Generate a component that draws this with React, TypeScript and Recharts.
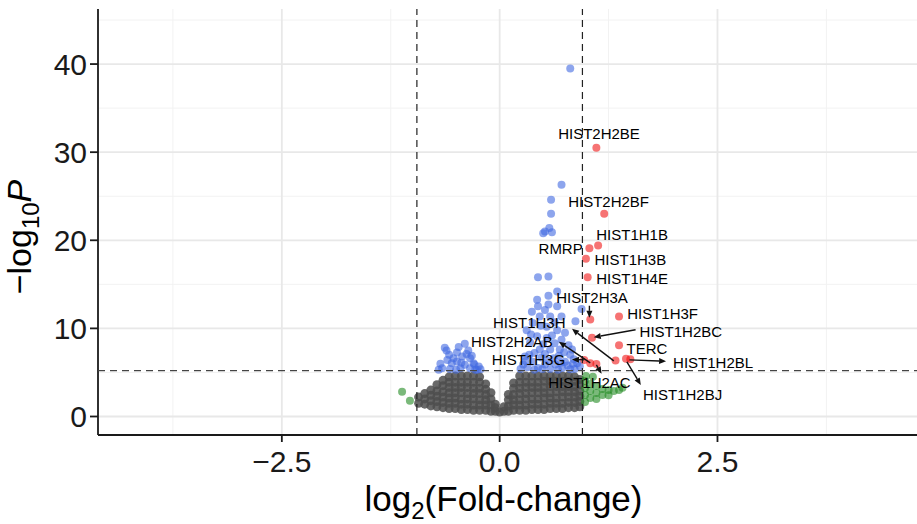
import { ScatterChart, Scatter, XAxis, YAxis, CartesianGrid, ReferenceLine } from "recharts";

const FC_CUTOFF = 0.95;
const P_CUTOFF = 5.2;

const X_TICKS = [-2.5, 0, 2.5];
const Y_TICKS = [0, 10, 20, 30, 40];
const X_MINOR = [-3.75, -1.25, 1.25, 3.75];
const Y_MINOR = [5, 15, 25, 35, 45];

// not significant (grey cloud), read column by column: log2FC and the -log10P values seen in it
const NS_COLUMNS = [
  { x: -0.93, ys: [1.5, 2.2] },
  { x: -0.86, ys: [1.4, 2.0, 2.6] },
  { x: -0.79, ys: [1.2, 1.8, 2.4, 3.0] },
  { x: -0.72, ys: [1.1, 1.7, 2.3, 2.9, 3.6] },
  { x: -0.65, ys: [1.0, 1.6, 2.2, 2.8, 3.5, 4.1] },
  { x: -0.58, ys: [0.9, 1.5, 2.1, 2.7, 3.3, 3.9, 4.5] },
  { x: -0.51, ys: [0.9, 1.5, 2.1, 2.7, 3.3, 3.9, 4.6] },
  { x: -0.44, ys: [0.8, 1.4, 2.0, 2.7, 3.3, 3.9, 4.6] },
  { x: -0.37, ys: [0.8, 1.4, 2.0, 2.6, 3.3, 3.9, 4.6] },
  { x: -0.3, ys: [0.7, 1.3, 2.0, 2.6, 3.2, 3.9, 4.6] },
  { x: -0.23, ys: [0.7, 1.3, 1.9, 2.6, 3.2, 3.9, 4.5] },
  { x: -0.16, ys: [0.7, 1.3, 1.9, 2.5, 3.1, 3.7] },
  { x: -0.1, ys: [0.6, 1.3, 2.0, 2.7] },
  { x: -0.05, ys: [0.6, 1.0, 1.4] },
  { x: 0.0, ys: [0.5] },
  { x: 0.05, ys: [0.6, 1.1] },
  { x: 0.1, ys: [0.6, 1.2, 1.9, 2.5] },
  { x: 0.16, ys: [0.7, 1.3, 1.9, 2.5, 3.2, 3.8] },
  { x: 0.23, ys: [0.7, 1.3, 1.9, 2.6, 3.2, 3.9, 4.6] },
  { x: 0.3, ys: [0.7, 1.3, 2.0, 2.6, 3.3, 3.9, 4.6] },
  { x: 0.37, ys: [0.8, 1.4, 2.0, 2.7, 3.3, 3.9, 4.6] },
  { x: 0.44, ys: [0.8, 1.4, 2.0, 2.7, 3.3, 3.9, 4.6] },
  { x: 0.51, ys: [0.8, 1.4, 2.1, 2.7, 3.3, 4.0, 4.6] },
  { x: 0.58, ys: [0.9, 1.5, 2.1, 2.7, 3.4, 4.0, 4.6] },
  { x: 0.65, ys: [0.9, 1.5, 2.1, 2.8, 3.4, 4.0, 4.6] },
  { x: 0.72, ys: [0.9, 1.5, 2.2, 2.8, 3.4, 4.0, 4.6] },
  { x: 0.79, ys: [1.0, 1.6, 2.2, 2.8, 3.4, 4.0, 4.6] },
  { x: 0.86, ys: [1.0, 1.6, 2.2, 2.8, 3.4, 4.0, 4.5] },
  { x: 0.92, ys: [1.1, 1.7, 2.3, 2.9, 3.6, 4.2] },
];

// log2FC only (green)
const FC_ONLY = [
  [-1.12, 2.8], [-1.03, 1.8],
  [0.99, 4.6], [1.07, 4.5], [0.98, 4.04], [0.98, 3.24], [0.98, 2.45], [0.98, 1.65],
  [1.04, 3.7], [1.04, 2.9], [1.04, 2.1], [1.11, 3.47], [1.11, 2.67], [1.11, 1.99],
  [1.18, 3.13], [1.18, 2.45], [1.25, 3.01], [1.25, 2.4], [1.31, 2.9], [1.37, 3.0],
  [1.41, 3.27],
];

// p-value only (blue)
const P_ONLY = [
  [0.81, 39.5], [0.71, 26.3], [0.59, 24.6], [0.59, 23.0], [0.57, 21.4], [0.52, 21.0],
  [0.6, 20.9], [0.5, 20.8], [0.44, 15.8], [0.56, 15.9], [0.66, 14.2], [0.56, 13.7],
  [0.43, 13.25], [0.56, 12.7], [0.44, 12.5], [0.66, 12.5], [0.52, 12.1], [0.94, 12.2],
  [0.37, 11.9], [0.46, 11.35], [0.58, 11.35], [0.71, 11.35], [0.87, 10.8], [0.38, 10.6],
  [0.54, 10.2], [0.66, 9.8], [0.75, 9.5], [0.31, 9.8], [0.43, 9.1], [0.54, 8.9],
  [0.71, 8.7], [0.79, 8.1], [0.35, 8.4], [0.46, 7.6], [0.58, 7.6], [0.69, 7.6],
  [0.81, 7.0], [0.89, 6.05], [0.29, 6.8], [0.38, 6.2], [0.52, 5.9], [0.64, 5.9],
  [0.75, 6.2], [0.32, 5.6], [0.44, 5.5], [0.58, 5.4], [0.72, 5.5], [0.86, 5.4],
  [0.24, 5.4], [0.92, 5.7], [0.62, 6.6], [0.48, 6.7], [0.85, 6.5], [0.68, 6.9],
  [0.4, 7.2], [0.27, 5.9], [0.5, 8.2], [0.63, 8.3], [0.4, 5.3], [0.67, 5.3], [0.78, 5.8],
  [0.34, 7.0], [0.52, 7.1], [0.74, 7.3], [0.36, 9.3], [0.6, 9.2], [0.83, 7.6],
  [0.47, 10.3], [0.63, 10.7], [0.3, 6.3], [0.56, 6.3], [0.7, 6.1], [0.84, 6.0],
  [0.49, 5.4], [0.81, 5.35],
  [-0.61, 7.5], [-0.49, 7.26], [-0.4, 8.25], [-0.36, 7.5], [-0.43, 6.8], [-0.34, 6.6],
  [-0.3, 6.05], [-0.24, 5.67], [-0.4, 5.86], [-0.49, 6.23], [-0.55, 6.05], [-0.66, 5.48],
  [-0.45, 5.48], [-0.34, 5.48], [-0.26, 5.3], [-0.7, 5.3], [-0.57, 5.4], [-0.38, 7.1],
  [-0.29, 5.9], [-0.63, 7.8], [-0.53, 6.6], [-0.22, 5.35], [-0.6, 6.4],
  [-0.47, 7.9], [-0.58, 7.0], [-0.32, 6.9], [-0.44, 6.1], [-0.68, 6.0], [-0.5, 5.3],
  [-0.28, 5.3],
];

// p-value and log2FC (red)
const BOTH = [
  [1.11, 30.5], [1.2, 23.0], [1.13, 19.4], [1.03, 19.1], [0.99, 17.9], [1.01, 15.8],
  [1.04, 11.0], [1.37, 11.35], [1.06, 8.95], [1.37, 8.1], [1.33, 6.35], [1.45, 6.55],
  [1.5, 6.5], [0.97, 6.4], [1.04, 6.05], [1.11, 5.95],
];

const LABELS = [
  { gene: "HIST2H2BE", x: 1.14, y: 32.1 },
  { gene: "HIST2H2BF", x: 1.25, y: 24.4 },
  { gene: "HIST1H1B", x: 1.52, y: 20.6 },
  { gene: "RMRP", x: 0.7, y: 19.1 },
  { gene: "HIST1H3B", x: 1.5, y: 17.8 },
  { gene: "HIST1H4E", x: 1.52, y: 15.7 },
  { gene: "HIST2H3A", x: 1.06, y: 13.5 },
  { gene: "HIST1H3F", x: 1.87, y: 11.7 },
  { gene: "HIST1H2BC", x: 2.08, y: 9.7 },
  { gene: "TERC", x: 1.69, y: 7.7 },
  { gene: "HIST1H2BL", x: 2.45, y: 6.15 },
  { gene: "HIST1H2BJ", x: 2.1, y: 2.45 },
  { gene: "HIST1H3H", x: 0.34, y: 10.65 },
  { gene: "HIST2H2AB", x: 0.14, y: 8.5 },
  { gene: "HIST1H3G", x: 0.33, y: 6.5 },
  { gene: "HIST1H2AC", x: 1.03, y: 3.87 },
];

const ARROWS = [
  { gene: "HIST2H3A", from: [1.03, 12.57], to: [1.03, 11.2] },
  { gene: "HIST1H2BC", from: [1.56, 9.84], to: [1.08, 8.99] },
  { gene: "HIST1H2BL", from: [1.49, 6.43], to: [1.91, 6.26] },
  { gene: "HIST1H2BJ", from: [1.46, 6.2], to: [1.62, 3.58] },
  { gene: "HIST1H3H", from: [1.31, 6.31], to: [0.83, 9.95] },
  { gene: "HIST2H2AB", from: [1.04, 6.09], to: [0.68, 8.48] },
  { gene: "HIST1H3G", from: [0.97, 6.43], to: [0.83, 6.48] },
  { gene: "HIST1H2AC", from: [1.11, 5.86], to: [1.17, 4.84] },
];

const nsData = NS_COLUMNS.flatMap((c) => c.ys.map((y) => ({ x: c.x, y })));
const toPts = (arr: number[][]) => arr.map(([x, y]) => ({ x, y }));

const FONT = "'Liberation Sans', Arial, Helvetica, sans-serif";
const INK = "#1a1a1a";

const dot = (fill: string, opacity: number, r: number) => (p: any) =>
  <circle cx={p.cx} cy={p.cy} r={r} fill={fill} fillOpacity={opacity} />;

const geneLabel = (p: any) => (
  <text x={p.cx} y={p.cy} textAnchor="middle" dominantBaseline="central" fontSize={15} fill="#000">
    {p.payload.gene}
  </text>
);

const arrowShape = (p: any) => {
  const { x1, y1, x2, y2 } = p;
  const a = Math.atan2(y2 - y1, x2 - x1);
  const len = 7;
  const w = 3;
  const bx = x2 - len * Math.cos(a);
  const by = y2 - len * Math.sin(a);
  const pts = `${x2},${y2} ${bx + w * Math.sin(a)},${by - w * Math.cos(a)} ${bx - w * Math.sin(a)},${by + w * Math.cos(a)}`;
  return (
    <g>
      <line x1={x1} y1={y1} x2={bx} y2={by} stroke="#111" strokeWidth={1.4} />
      <polygon points={pts} fill="#111" />
    </g>
  );
};

const fmt = (v: number) => (v < 0 ? "\u2212" : "") + Math.abs(v).toFixed(1);

const xTitle = (p: any) => {
  const vb = p.viewBox;
  return (
    <text x={vb.x + vb.width / 2 - 4} y={vb.y + 76} textAnchor="middle" fontSize={35} fill="#000">
      log<tspan dy={8} fontSize={24}>2</tspan>
      <tspan dy={-8}>(Fold-change)</tspan>
    </text>
  );
};

const yTitle = () => (
  <text x={31} y={237} transform="rotate(-90 31 237)" textAnchor="middle" fontSize={34} fill="#000">
    {"\u2212log"}
    <tspan dy={8} fontSize={24}>10</tspan>
    <tspan dy={-8} fontStyle="italic">P</tspan>
  </text>
);

export default function App() {
  return (
    <div style={{ position: "absolute", left: 0, top: 0, fontFamily: FONT, background: "#fff" }}>
      <ScatterChart width={917} height={524} margin={{ top: 9, right: 0, bottom: 0, left: 0 }}>
        <CartesianGrid verticalValues={X_MINOR} horizontalValues={Y_MINOR} stroke="#f2f2f2" strokeWidth={1} />
        <CartesianGrid verticalValues={X_TICKS} horizontalValues={Y_TICKS} stroke="#e8e8e8" strokeWidth={1.8} />
        <XAxis
          type="number"
          dataKey="x"
          domain={[-4.61, 4.79]}
          ticks={X_TICKS}
          tickFormatter={fmt}
          allowDataOverflow
          height={89}
          tickSize={7}
          tickMargin={9}
          axisLine={{ stroke: INK, strokeWidth: 1.8 }}
          tickLine={{ stroke: INK, strokeWidth: 1.8 }}
          tick={{ fill: INK, fontSize: 30 }}
          label={{ content: xTitle }}
        />
        <YAxis
          type="number"
          dataKey="y"
          domain={[-2.1, 46.25]}
          ticks={Y_TICKS}
          allowDataOverflow
          width={98}
          tickSize={8}
          tickMargin={3}
          axisLine={{ stroke: INK, strokeWidth: 1.8 }}
          tickLine={{ stroke: INK, strokeWidth: 1.8 }}
          tick={{ fill: INK, fontSize: 30 }}
          label={{ content: yTitle }}
        />
        <Scatter data={nsData} shape={dot("#4d4d4d", 0.85, 4.5)} isAnimationActive={false} />
        <Scatter data={toPts(FC_ONLY)} shape={dot("#228B22", 0.6, 4)} isAnimationActive={false} />
        <Scatter data={toPts(P_ONLY)} shape={dot("#4169E1", 0.6, 4)} isAnimationActive={false} />
        <Scatter data={toPts(BOTH)} shape={dot("#EE0000", 0.55, 4)} isAnimationActive={false} />
        <ReferenceLine x={-FC_CUTOFF} stroke="#222" strokeDasharray="7 5" strokeWidth={1.2} zIndex={700} />
        <ReferenceLine x={FC_CUTOFF} stroke="#222" strokeDasharray="7 5" strokeWidth={1.2} zIndex={700} />
        <ReferenceLine y={P_CUTOFF} stroke="#444" strokeDasharray="7 5" strokeWidth={1.2} zIndex={700} />
        {ARROWS.map((a) => (
          <ReferenceLine
            key={a.gene}
            segment={[{ x: a.from[0], y: a.from[1] }, { x: a.to[0], y: a.to[1] }]}
            shape={arrowShape}
            zIndex={800}
          />
        ))}
        <Scatter data={LABELS} shape={geneLabel} isAnimationActive={false} zIndex={900} />
      </ScatterChart>
    </div>
  );
}
